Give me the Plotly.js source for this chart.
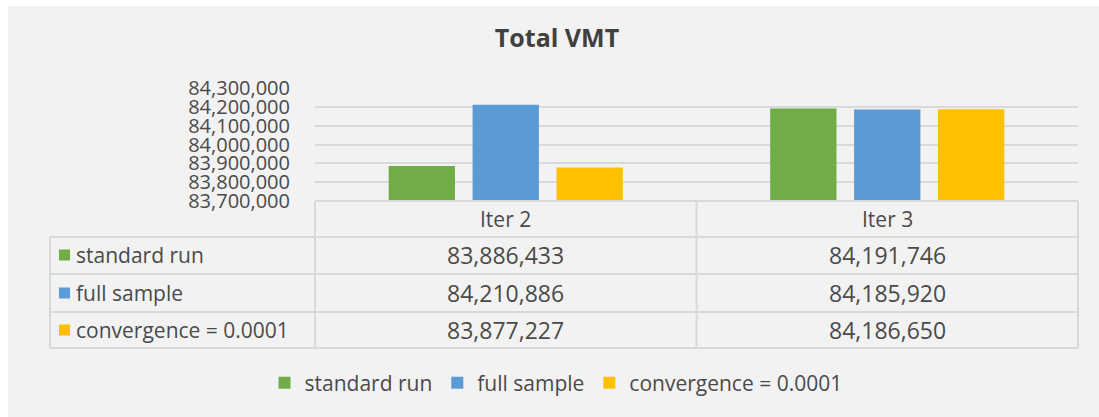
<!DOCTYPE html>
<html>
<head>
<meta charset="utf-8">
<script src="https://cdn.plot.ly/plotly-3.0.1.min.js"></script>
<style>
  body { margin: 0; background: #ffffff; }
  #vmt { position: absolute; left: 8px; top: 6px; width: 1091px; height: 411px; }
</style>
</head>
<body>
<div id="vmt"></div>
<script>
// Total VMT by iteration
var iterations = ['Iter 2', 'Iter 3'];
var seriesNames = ['standard run', 'full sample', 'convergence = 0.0001'];
var standardRun = [83886433, 84191746];
var fullSample = [84210886, 84185920];
var convergence = [83877227, 84186650];
var colors = ['#70ad47', '#5b9bd5', '#ffc000'];

var seriesValues = [standardRun, fullSample, convergence];
var txt = '#4a4a4a';
var lineCol = '#d9d9d9';
var font = 'Open Sans, sans-serif';

// page pixel -> paper coords (plot area spans x 315..1078, y 88..201)
function px(x) { return (x - 315) / 763; }
function py(y) { return (201 - y) / 113; }

var data = seriesNames.map(function (name, i) {
  return {
    x: iterations,
    y: seriesValues[i],
    type: 'bar',
    name: name,
    marker: {color: colors[i], line: {width: 0}},
    hoverinfo: 'y+name'
  };
});

// data table grid
var rowLines = [237, 274, 312, 348];
var rowCenters = [255, 293, 330];
var shapes = [];
shapes.push({type: 'line', xref: 'paper', yref: 'paper', x0: 0, x1: 1, y0: py(201), y1: py(201), line: {color: lineCol, width: 2}});
rowLines.forEach(function (y) {
  shapes.push({type: 'line', xref: 'paper', yref: 'paper', x0: px(50), x1: 1, y0: py(y), y1: py(y), line: {color: lineCol, width: 2}});
});
[0, 0.5, 1].forEach(function (x) {
  shapes.push({type: 'line', xref: 'paper', yref: 'paper', x0: x, x1: x, y0: py(201), y1: py(348), line: {color: lineCol, width: 2}});
});
shapes.push({type: 'line', xref: 'paper', yref: 'paper', x0: px(50), x1: px(50), y0: py(237), y1: py(348), line: {color: lineCol, width: 2}});

var annotations = [];
iterations.forEach(function (it, j) {
  annotations.push({x: j, xref: 'x', xanchor: 'center', y: py(219), yref: 'paper', yanchor: 'middle',
    text: it, showarrow: false, font: {family: font, size: 21, color: txt}});
});
seriesNames.forEach(function (name, i) {
  shapes.push({type: 'rect', xref: 'paper', yref: 'paper', x0: px(59), x1: px(70),
    y0: py(rowCenters[i] + 5.5), y1: py(rowCenters[i] - 5.5), fillcolor: colors[i], line: {width: 0}});
  annotations.push({x: px(74), xref: 'paper', xanchor: 'left', y: py(rowCenters[i]), yref: 'paper', yanchor: 'middle',
    text: name, showarrow: false, font: {family: font, size: 21, color: txt}});
  seriesValues[i].forEach(function (v, j) {
    annotations.push({x: j, xref: 'x', xanchor: 'center', y: py(rowCenters[i]), yref: 'paper', yanchor: 'middle',
      text: v.toLocaleString('en-US'), showarrow: false, font: {family: font, size: 23, color: txt}});
  });
});

var layout = {
  width: 1091,
  height: 411,
  paper_bgcolor: '#f2f2f2',
  plot_bgcolor: '#f2f2f2',
  margin: {l: 307, r: 21, t: 82, b: 216},
  title: {
    text: '<b>Total VMT</b>',
    font: {family: font, size: 25, color: '#404040'},
    x: 549 / 1091, xanchor: 'center',
    y: 1 - 32 / 411, yanchor: 'middle'
  },
  barmode: 'group',
  bargap: 0.34,
  bargroupgap: 0.21,
  xaxis: {showticklabels: false, showgrid: false, zeroline: false, showline: false, ticks: ''},
  yaxis: {
    range: [83700000, 84300000],
    dtick: 100000,
    tickformat: ',d',
    gridcolor: lineCol,
    gridwidth: 2,
    zeroline: false,
    ticks: '',
    ticklabelstandoff: 24,
    tickfont: {family: font, size: 20, color: txt}
  },
  showlegend: true,
  legend: {
    orientation: 'h',
    x: px(556), xanchor: 'center',
    y: py(383), yanchor: 'middle',
    bgcolor: 'rgba(0,0,0,0)',
    font: {family: font, size: 21, color: txt},
    traceorder: 'normal'
  },
  shapes: shapes,
  annotations: annotations
};

Plotly.newPlot('vmt', data, layout, {displayModeBar: false, staticPlot: true});
</script>
</body>
</html>
